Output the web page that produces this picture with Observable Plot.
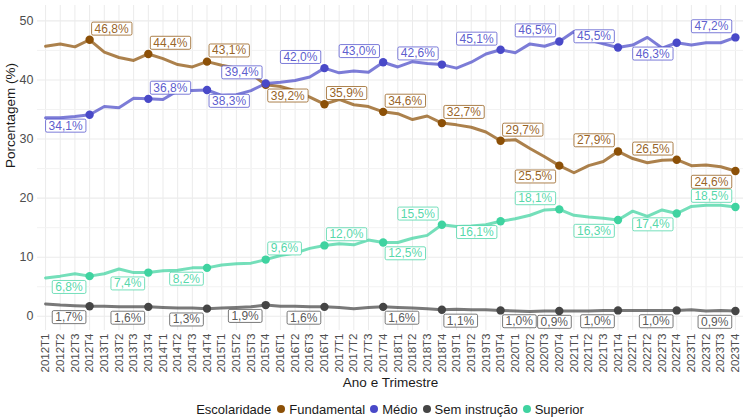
<!DOCTYPE html>
<html>
<head>
<meta charset="utf-8">
<script src="https://cdn.jsdelivr.net/npm/d3@7"></script>
<script src="https://cdn.jsdelivr.net/npm/@observablehq/plot@0.6"></script>
<style>
  html, body { margin: 0; padding: 0; background: #fff; }
  #wrap { position: relative; width: 743px; height: 419px; font-family: "Liberation Sans", Arial, sans-serif; }
  #legend { position: absolute; left: 0; width: 780px; top: 400px; height: 18px; display: flex; justify-content: center; align-items: center; font-size: 13px; color: #1a1a1a; white-space: nowrap; }
  #legend .dot { display: inline-block; width: 8px; height: 8px; border-radius: 50%; margin: 0 4px 0 5px; }
</style>
</head>
<body>
<div id="wrap"><div id="chart"></div><div id="legend"></div></div>
<script>
// ---- data ----
const years = [2012, 2013, 2014, 2015, 2016, 2017, 2018, 2019, 2020, 2021, 2022, 2023];
const quarterNames = ["T1", "T2", "T3", "T4"];
const quarters = years.flatMap(y => quarterNames.map(q => `${y}${q}`));

const seriesNames = ["Fundamental", "Médio", "Sem instrução", "Superior"];

const fundamental = [45.7, 46.1, 45.6, 46.8, 44.7, 43.8, 43.3, 44.4, 43.6, 42.6, 42.2, 43.1,
  42.5, 42.0, 41.0, 39.2, 38.9, 38.2, 37.1, 35.9, 36.7, 35.8, 35.5, 34.6,
  34.3, 33.3, 33.9, 32.7, 32.4, 32.0, 31.2, 29.7, 29.9, 28.4, 27.0, 25.5,
  24.3, 25.5, 26.2, 27.9, 26.7, 26.0, 26.4, 26.5, 25.5, 25.6, 25.3, 24.6];
const medio = [33.6, 33.6, 33.8, 34.1, 35.5, 35.3, 36.9, 36.8, 36.7, 38.2, 38.2, 38.3,
  37.4, 37.5, 38.2, 39.4, 39.6, 39.9, 40.5, 42.0, 41.2, 41.5, 41.3, 43.0,
  42.2, 43.1, 42.8, 42.6, 42.0, 43.0, 44.4, 45.1, 44.6, 46.1, 45.7, 46.5,
  48.2, 46.8, 46.1, 45.5, 45.9, 47.2, 45.4, 46.3, 45.9, 46.3, 46.3, 47.2];
const semInstrucao = [2.1, 1.9, 1.8, 1.7, 1.7, 1.6, 1.6, 1.6, 1.5, 1.4, 1.4, 1.3,
  1.4, 1.5, 1.6, 1.9, 1.7, 1.7, 1.6, 1.6, 1.5, 1.3, 1.5, 1.6,
  1.5, 1.4, 1.3, 1.1, 1.2, 1.1, 1.1, 1.0, 0.9, 0.8, 0.9, 0.9,
  0.9, 0.9, 1.0, 1.0, 1.0, 1.0, 1.0, 1.0, 1.1, 0.9, 1.0, 0.9];
const superior = [6.5, 6.8, 7.2, 6.8, 7.2, 8.0, 7.4, 7.4, 7.7, 7.8, 8.2, 8.2,
  8.7, 8.9, 9.0, 9.6, 10.3, 10.7, 11.5, 12.0, 12.3, 12.1, 12.9, 12.5,
  12.5, 13.2, 13.7, 15.5, 15.2, 15.3, 15.5, 16.1, 16.5, 17.1, 18.0, 18.1,
  17.1, 16.8, 16.6, 16.3, 17.8, 16.9, 18.0, 17.4, 18.6, 18.8, 18.8, 18.5];

const yTicks = [0, 10, 20, 30, 40, 50];
const yMinor = [5, 15, 25, 35, 45];

// ---- build table ----
const seriesValues = [fundamental, medio, semInstrucao, superior];
const rows = seriesNames.flatMap((s, si) => quarters.map((q, i) => ({serie: s, q, i, v: seriesValues[si][i]})));
const marked = rows.filter(d => d.q.endsWith("T4"));

// label side relative to point (n/s, e/w/c) for each series, per year
const sides = {
  "Fundamental":   ["ne","ne","ne","se","ne","ne","ne","ne","sw","nw","nw","sw"],
  "Médio":         ["sw","ne","se","nw","nw","nw","nw","nw","nw","nw","sw","nw"],
  "Sem instrução": ["sw","sw","sw","sw","sw","se","se","se","sc","sw","sw","sw"],
  "Superior":      ["sw","sw","sw","ne","ne","se","nw","sw","nw","sw","sw","nw"]
};
marked.forEach(d => { d.side = sides[d.serie][years.indexOf(+d.q.slice(0, 4))]; d.label = d.v.toFixed(1).replace(".", ",") + "%"; });

const colors = ["#8c5007", "#4949c8", "#454545", "#3fd3a0"];
const font = "'Liberation Sans', Arial, sans-serif";

function labelMark(side) {
  const north = side[0] === "n";
  const h = side[1];
  return Plot.text(marked.filter(d => d.side === side), {
    x: "q", y: "v", text: "label", fill: "serie",
    textAnchor: h === "e" ? "start" : h === "w" ? "end" : "middle",
    dx: h === "e" ? 5 : h === "w" ? -7 : -5,
    dy: north ? -11 : 11,
    fontSize: 12,
    lineAnchor: "middle"
  });
}

const chart = Plot.plot({
  width: 743,
  height: 419,
  marginLeft: 37,
  marginRight: 0,
  marginTop: 5,
  marginBottom: 89,
  style: {fontFamily: font, background: "#fff"},
  x: {type: "point", domain: quarters, padding: 0.55},
  y: {domain: [-2.4, 52.6]},
  color: {domain: seriesNames, range: colors},
  marks: [
    Plot.gridX(quarters, {stroke: "#ebebeb", strokeOpacity: 1, strokeWidth: 1}),
    Plot.gridY(yMinor, {stroke: "#f2f2f2", strokeOpacity: 1, strokeWidth: 1}),
    Plot.gridY(yTicks, {stroke: "#ebebeb", strokeOpacity: 1, strokeWidth: 1.1}),
    Plot.axisY(yTicks, {tickSize: 0, tickPadding: 4, fontSize: 12.5, color: "#4d4d4d", label: null}),
    Plot.axisX({tickSize: 0, tickPadding: 3, tickRotate: -90, fontSize: 11.5, color: "#4d4d4d", label: null}),
    Plot.text(["Porcentagem (%)"], {frameAnchor: "left", dx: -27, rotate: -90, fontSize: 13.5, fill: "#1a1a1a"}),
    Plot.text(["Ano e Trimestre"], {frameAnchor: "bottom", dy: 56, fontSize: 13.5, fill: "#1a1a1a"}),
    Plot.line(rows, {x: "q", y: "v", z: "serie", stroke: "serie", strokeWidth: 3, strokeOpacity: 0.72, curve: "linear"}),
    Plot.dot(marked, {x: "q", y: "v", fill: "serie", r: 4.2}),
    labelMark("ne"), labelMark("nw"), labelMark("se"), labelMark("sw"), labelMark("sc")
  ]
});
document.getElementById("chart").appendChild(chart);

// draw white boxes with coloured borders behind the value labels
const labelSet = new Set(marked.map(d => d.label));
chart.querySelectorAll("text").forEach(t => {
  if (!labelSet.has(t.textContent) || t.closest('[aria-label^="y-axis"]') || t.closest('[aria-label^="x-axis"]')) return;
  const b = t.getBBox();
  const r = document.createElementNS("http://www.w3.org/2000/svg", "rect");
  r.setAttribute("x", b.x - 3);
  r.setAttribute("y", b.y + 0.5);
  r.setAttribute("width", b.width + 6);
  r.setAttribute("height", b.height - 1);
  r.setAttribute("rx", 1.5);
  r.setAttribute("fill", "#fff");
  const c = t.getAttribute("fill") || t.parentNode.getAttribute("fill");
  r.setAttribute("stroke", c);
  r.setAttribute("stroke-width", 0.9);
  r.setAttribute("stroke-opacity", 0.8);
  if (t.getAttribute("transform")) r.setAttribute("transform", t.getAttribute("transform"));
  if (t.getAttribute("x") != null) { r.setAttribute("x", b.x - 3); }
  t.parentNode.insertBefore(r, t);
  t.setAttribute("fill-opacity", 0.9);
});

// legend
const legend = document.getElementById("legend");
legend.innerHTML = `<span style="margin-right:1px">Escolaridade</span>` +
  seriesNames.map((s, i) => `<span class="dot" style="background:${colors[i]}"></span><span>${s}</span>`).join("");
</script>
</body>
</html>
